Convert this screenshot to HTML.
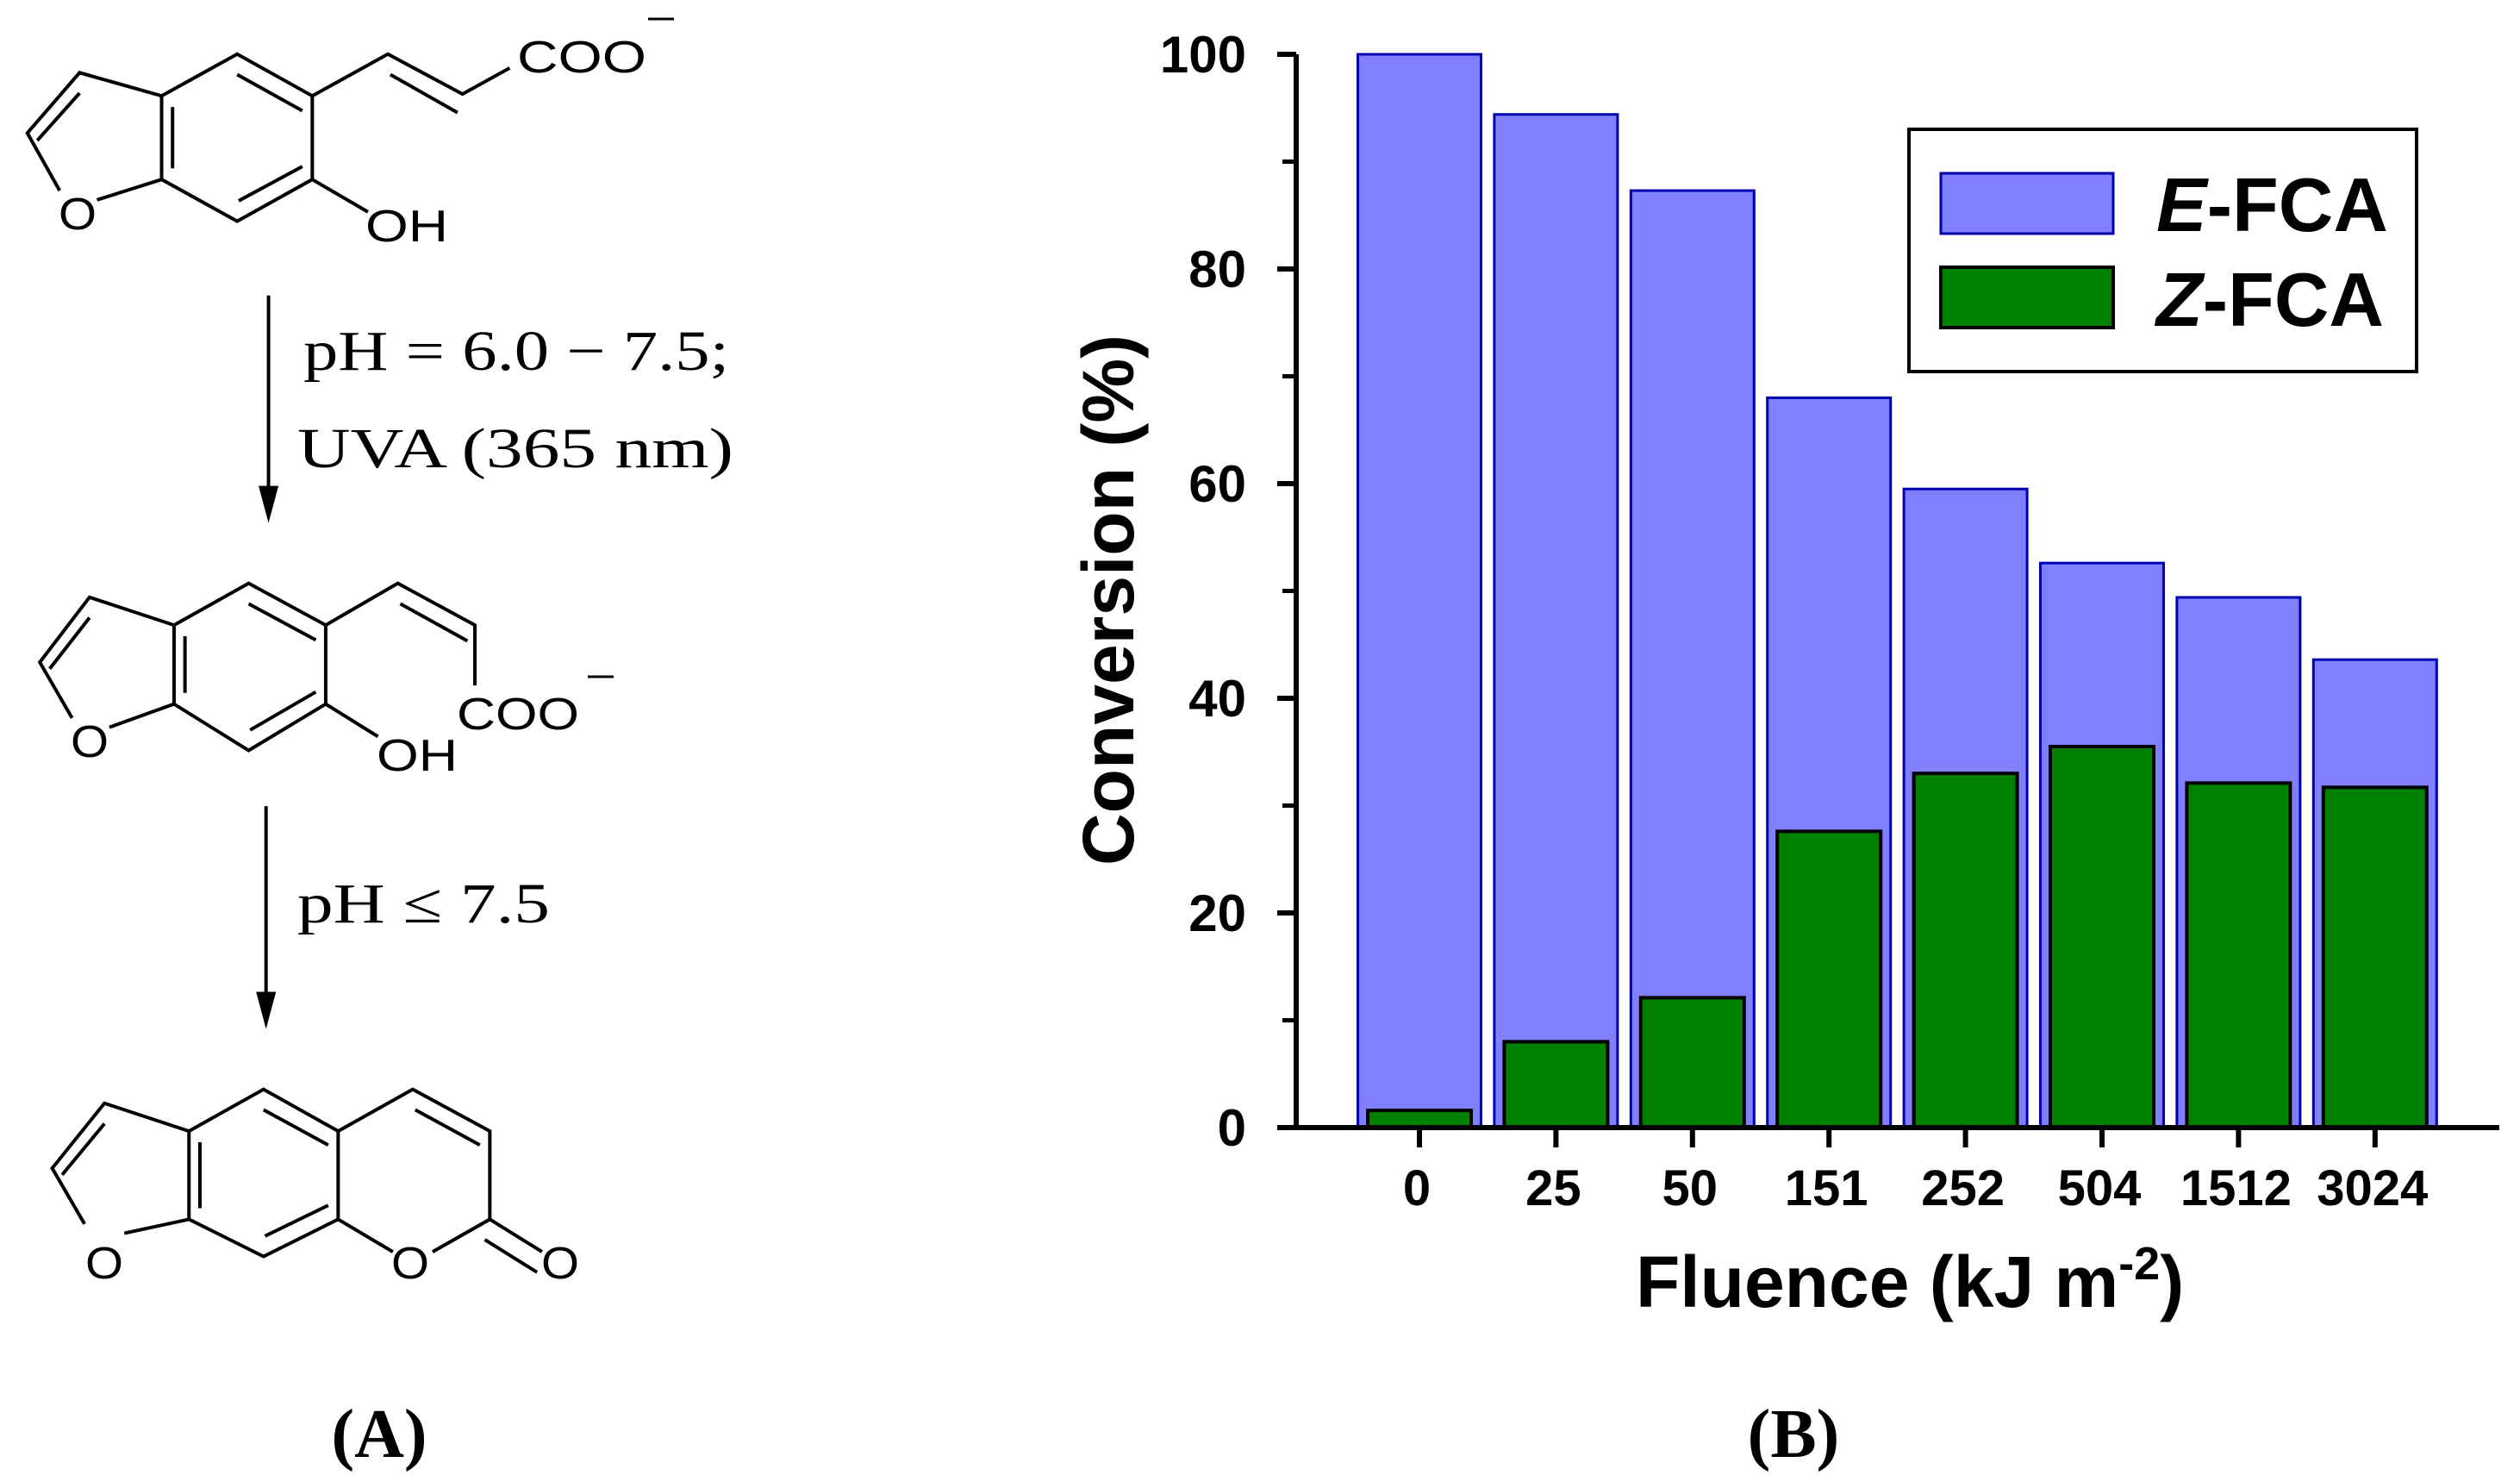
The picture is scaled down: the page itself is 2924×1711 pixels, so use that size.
<!DOCTYPE html>
<html><head><meta charset="utf-8"><style>
html,body{margin:0;padding:0;background:#fff;}
svg{display:block;}
</style></head><body>
<svg id="fig" width="2924" height="1711" viewBox="0 0 2924 1711" xmlns="http://www.w3.org/2000/svg">
<g id="scheme-lines" transform="translate(0,-18) scale(0.577,1.077)" stroke="#000" fill="none">
 <g stroke-width="4">
  <g>
    <polyline vector-effect="non-scaling-stroke" points="325,120 477,75 628,120 628,210 477,255 325,210 325,120"/>
    <line vector-effect="non-scaling-stroke" x1="477" y1="97" x2="608" y2="136"/><line vector-effect="non-scaling-stroke" x1="347" y1="132" x2="347" y2="198"/><line vector-effect="non-scaling-stroke" x1="480" y1="233" x2="608" y2="196"/>
    <polyline vector-effect="non-scaling-stroke" points="325,120 160,95 55,160 120,222"/><line vector-effect="non-scaling-stroke" x1="195" y1="232" x2="325" y2="210"/><line vector-effect="non-scaling-stroke" x1="160" y1="117" x2="75" y2="168"/>
    <polyline vector-effect="non-scaling-stroke" points="628,120 780,75 930,118 1025,90"/><line vector-effect="non-scaling-stroke" x1="785" y1="97" x2="920" y2="138"/>
    <line vector-effect="non-scaling-stroke" x1="628" y1="210" x2="740" y2="245"/>
  </g>
  <g>
    <line vector-effect="non-scaling-stroke" x1="540" y1="335" x2="540" y2="545"/><polygon points="520,540 560,540 540,580" fill="#000" stroke="none"/>
  </g>
  <g>
    <polyline vector-effect="non-scaling-stroke" points="350,690 500,645 655,690 655,775 500,825 350,775 350,690"/>
    <line vector-effect="non-scaling-stroke" x1="500" y1="667" x2="635" y2="706"/><line vector-effect="non-scaling-stroke" x1="372" y1="702" x2="372" y2="763"/><line vector-effect="non-scaling-stroke" x1="503" y1="803" x2="635" y2="762"/>
    <polyline vector-effect="non-scaling-stroke" points="350,690 180,660 80,730 145,790"/><line vector-effect="non-scaling-stroke" x1="220" y1="800" x2="350" y2="775"/><line vector-effect="non-scaling-stroke" x1="180" y1="682" x2="100" y2="737"/>
    <polyline vector-effect="non-scaling-stroke" points="655,690 800,645 955,690 955,755"/><line vector-effect="non-scaling-stroke" x1="805" y1="667" x2="940" y2="707"/>
    <line vector-effect="non-scaling-stroke" x1="655" y1="775" x2="760" y2="810"/>
  </g>
  <g>
    <line vector-effect="non-scaling-stroke" x1="535" y1="885" x2="535" y2="1090"/><polygon points="515,1085 555,1085 535,1125" fill="#000" stroke="none"/>
  </g>
  <g>
    <polyline vector-effect="non-scaling-stroke" points="380,1235 530,1190 680,1235 680,1330 530,1370 380,1330 380,1235"/>
    <line vector-effect="non-scaling-stroke" x1="530" y1="1212" x2="660" y2="1250"/><line vector-effect="non-scaling-stroke" x1="402" y1="1247" x2="402" y2="1318"/><line vector-effect="non-scaling-stroke" x1="533" y1="1348" x2="660" y2="1315"/>
    <polyline vector-effect="non-scaling-stroke" points="380,1235 210,1205 105,1275 170,1335"/><line vector-effect="non-scaling-stroke" x1="250" y1="1345" x2="380" y2="1330"/><line vector-effect="non-scaling-stroke" x1="210" y1="1227" x2="125" y2="1282"/>
    <polyline vector-effect="non-scaling-stroke" points="680,1235 830,1190 985,1235 985,1330 870,1365"/><line vector-effect="non-scaling-stroke" x1="835" y1="1212" x2="965" y2="1250"/>
    <line vector-effect="non-scaling-stroke" x1="680" y1="1330" x2="790" y2="1365"/>
    <line vector-effect="non-scaling-stroke" x1="985" y1="1330" x2="1090" y2="1365"/><line vector-effect="non-scaling-stroke" x1="975" y1="1352" x2="1080" y2="1387"/>
  </g>
 </g>
</g>
<g font-family="'Liberation Sans', sans-serif" font-size="52" fill="#000">
  <text x="600" y="84" textLength="150" lengthAdjust="spacingAndGlyphs">COO</text>
  <line x1="752" y1="22" x2="782" y2="22" stroke="#000" stroke-width="3"/>
  <text x="424" y="280" textLength="96" lengthAdjust="spacingAndGlyphs">OH</text>
  <text x="68" y="266" textLength="44" lengthAdjust="spacingAndGlyphs">O</text>
  <text x="352" y="429" font-family="'Liberation Serif', serif" font-size="66" textLength="494" lengthAdjust="spacingAndGlyphs">pH = 6.0 − 7.5;</text>
  <text x="345" y="542" font-family="'Liberation Serif', serif" font-size="66" textLength="506" lengthAdjust="spacingAndGlyphs">UVA (365 nm)</text>
  <text x="82" y="878" textLength="44" lengthAdjust="spacingAndGlyphs">O</text>
  <text x="437" y="894" textLength="94" lengthAdjust="spacingAndGlyphs">OH</text>
  <text x="530" y="846" textLength="142" lengthAdjust="spacingAndGlyphs">COO</text>
  <line x1="682" y1="785" x2="712" y2="785" stroke="#000" stroke-width="3"/>
  <text x="345" y="1070" font-family="'Liberation Serif', serif" font-size="66" textLength="293" lengthAdjust="spacingAndGlyphs">pH ≤ 7.5</text>
  <text x="99" y="1483" textLength="44" lengthAdjust="spacingAndGlyphs">O</text>
  <text x="454" y="1483" textLength="44" lengthAdjust="spacingAndGlyphs">O</text>
  <text x="628" y="1483" textLength="44" lengthAdjust="spacingAndGlyphs">O</text>
</g>
<text x="440" y="1690" text-anchor="middle" font-family="'Liberation Serif', serif" font-weight="bold" font-size="80">(A)</text>
<text x="2081" y="1690" text-anchor="middle" font-family="'Liberation Serif', serif" font-weight="bold" font-size="80">(B)</text>
<g id="chart" font-family="'Liberation Sans', sans-serif" font-weight="bold"></g>
</svg>
<script>
const categories = ["0","25","50","151","252","504","1512","3024"];
const eValues = [100, 94.4, 87.3, 68, 59.5, 52.6, 49.4, 43.6];
const zValues = [1.6, 8, 12.1, 27.6, 33, 35.5, 32.1, 31.7];
const yTicks = [0, 20, 40, 60, 80, 100];
const yMinor = [10, 30, 50, 70, 90];

const NS = "http://www.w3.org/2000/svg";
const g = document.getElementById("chart");
const X0 = 1504, Y0 = 1308, Y100 = 63, C0 = 1647, STEP = 158.4;
function y(v){ return Y0 - (Y0 - Y100) * v / 100; }
function xc(i){ return C0 + i * STEP; }
function mk(tag, attrs){ const e = document.createElementNS(NS, tag); for (const k in attrs) e.setAttribute(k, attrs[k]); g.appendChild(e); return e; }

eValues.forEach((v, i) => {
  const r = mk("rect", {x: xc(i) - 71.5, y: y(v), width: 143, height: Y0 - y(v), fill: "#8080ff", stroke: "#0000b0", "stroke-width": 3});
  
  
});
zValues.forEach((v, i) => {
  const r = mk("rect", {x: xc(i) - 60, y: y(v), width: 120, height: Y0 - y(v), fill: "#008000", stroke: "#000", "stroke-width": 4});
  
  
});
const ya = mk("line", {x1: X0, y1: y(100), x2: X0, y2: Y0 + 2, stroke: "#000", "stroke-width": 6});


const xa = mk("line", {x1: 1482, y1: Y0, x2: 2900, y2: Y0, stroke: "#000", "stroke-width": 6});


yTicks.forEach(v => {
  const t = mk("line", {x1: 1482, y1: y(v), x2: X0, y2: y(v), stroke: "#000", "stroke-width": 6});
  
  
  const l = mk("text", {x: 1446, y: y(v) + 21, "text-anchor": "end", "font-size": 60});
  l.textContent = v;
  
  
});
yMinor.forEach(v => {
  const t = mk("line", {x1: 1488, y1: y(v), x2: X0, y2: y(v), stroke: "#000", "stroke-width": 5});
  
  
});
categories.forEach((c, i) => {
  const t = mk("line", {x1: xc(i), y1: Y0, x2: xc(i), y2: 1331, stroke: "#000", "stroke-width": 6});
  
  
  const l = mk("text", {x: xc(i) - 3, y: 1398, "text-anchor": "middle", "font-size": 58});
  l.textContent = c;
  
  
});
const yt = mk("text", {x: 0, y: 0, "text-anchor": "middle", "font-size": 84, transform: "translate(1315,696) rotate(-90)"});
yt.textContent = "Conversion (%)";


const xt = mk("text", {x: 1898, y: 1516, "font-size": 84});
xt.innerHTML = 'Fluence (kJ m<tspan dy="-32" font-size="54">-2</tspan><tspan dy="32">)</tspan>';


const lb = mk("rect", {x: 2215, y: 150, width: 589, height: 281, fill: "#fff", stroke: "#000", "stroke-width": 4});


const s1 = mk("rect", {x: 2252, y: 201, width: 200, height: 70, fill: "#8080ff", stroke: "#0000b0", "stroke-width": 3});


const s2 = mk("rect", {x: 2252, y: 310, width: 200, height: 70, fill: "#008000", stroke: "#000", "stroke-width": 4});


const t1 = mk("text", {x: 2502, y: 268, "font-size": 88});
t1.innerHTML = '<tspan font-style="italic">E</tspan>-FCA';


const t2 = mk("text", {x: 2502, y: 378, "font-size": 88});
t2.innerHTML = '<tspan font-style="italic">Z</tspan>-FCA';


</script>
</body></html>
